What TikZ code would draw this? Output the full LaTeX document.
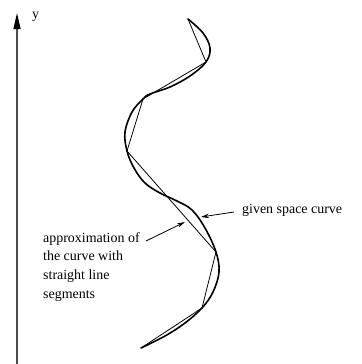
\documentclass[tikz,border=0pt]{standalone}
\usepackage{fontspec}
\setmainfont{Liberation Serif}
\usetikzlibrary{arrows.meta}
\begin{document}
\begin{tikzpicture}[x=1bp,y=-1bp,
  curvestyle/.style={line width=1.6bp,black,line cap=round,line join=round},
  chordstyle/.style={line width=0.8bp,black,line join=round},
  axisstyle/.style={line width=1.3bp,black!70,-{Triangle[length=16bp,width=7bp,black]}},
  pointer/.style={line width=0.8bp,-{Stealth[length=8bp,width=4.5bp]}},
  lbl/.style={font=\fontsize{14}{19}\selectfont,inner sep=0pt}]
\useasboundingbox (0,0) rectangle (362,364);
% y axis
\coordinate (ybot) at (17,366);
\coordinate (ytop) at (17,13);
\draw[axisstyle] (ybot) -- (ytop);
\node[lbl,anchor=west] (ylab) at (32,17) {y};
% vertices of the polyline
\coordinate (p0) at (188,19);
\coordinate (p1) at (206,62);
\coordinate (p2) at (143,99);
\coordinate (p3) at (127,151);
\coordinate (p4) at (216,252);
\coordinate (p5) at (202,308);
\coordinate (p6) at (141,348);
% space curve
\draw[curvestyle] plot[smooth,tension=0.6] coordinates {
 (188,19) (203,33) (210,48) (206,62) (190,76) (170,87) (150,94) (143,99)
 (132,112) (125,132) (127,151) (134,168) (145,183) (160,193) (177,201)
 (192,210) (205,228) (216,252) (219,272) (213,292) (202,308) (185,323)
 (165,336) (141,348)};
% polyline
\draw[chordstyle] (p0) -- (p1) -- (p2) -- (p3) -- (p4) -- (p5) -- (p6);
% labels
\node[lbl,anchor=west] (given) at (242,210) {given space curve};
\coordinate (gtip) at (201,217);
\draw[pointer] (given.west) ++(-8,2) coordinate (gstart) -- (gtip);
\node[lbl,anchor=north west,align=left] (approx) at (43,232)
 {approximation of\\the curve with\\straight line\\segments};
\coordinate (atip) at (185,222);
\coordinate (astart) at (146,241);
\draw[pointer] (astart) -- (atip);
\end{tikzpicture}
\end{document}
